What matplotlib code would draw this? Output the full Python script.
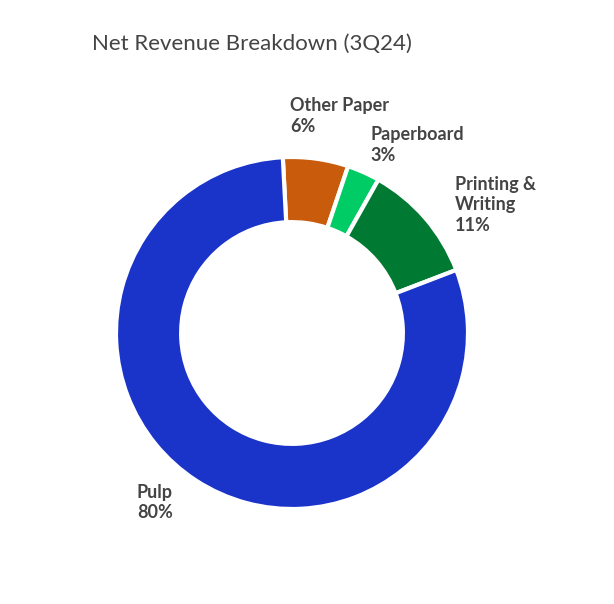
import matplotlib
matplotlib.use("Agg")
import matplotlib.pyplot as plt

categories = ["Other Paper", "Paperboard", "Printing &\nWriting", "Pulp"]
values = [6, 3, 11, 80]
colors = ["#c95b0c", "#00cc66", "#007a33", "#1a33c8"]
label_px = [(290, 97), (370, 126), (455, 176), (137, 484)]

W, H = 614, 604
fig = plt.figure(figsize=(W/100, H/100), dpi=100)
cx, cy, r = 292, 333, 176
ax = fig.add_axes([(cx-r)/W, (H-cy-r)/H, 2*r/W, 2*r/H])
ax.pie(values, colors=colors, startangle=93, counterclock=False, radius=1,
       wedgeprops=dict(width=0.37, edgecolor="white", linewidth=3))
ax.set_xlim(-1, 1); ax.set_ylim(-1, 1)
ax.set_aspect("equal"); ax.axis("off")

fig.text(92/W, 1-44/H, "Net Revenue Breakdown (3Q24)", fontsize=16, color="#444444",
         family="Lato", va="center", ha="left")
for name, v, (x, y) in zip(categories, values, label_px):
    fig.text(x/W, 1-y/H, f"{name}\n{v}%", fontsize=13, fontweight="bold", color="#444444",
             family="Lato", va="top", ha="left", linespacing=1.25)
fig.savefig("out.png", dpi=100, facecolor="white")
